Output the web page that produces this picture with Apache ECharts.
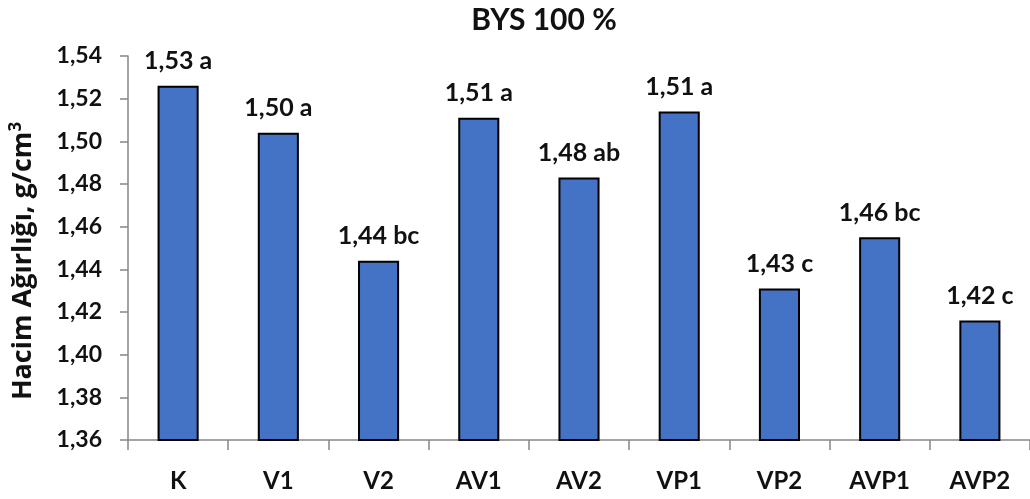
<!DOCTYPE html>
<html>
<head>
<meta charset="utf-8">
<script src="https://cdn.jsdelivr.net/npm/echarts@6/dist/echarts.min.js"></script>
<style>
  html, body { margin: 0; padding: 0; background: #fff; }
  #chart { width: 1030px; height: 499px; }
</style>
</head>
<body>
<div id="chart"></div>
<script>
// treatments and measured bulk density
const categories = ['K', 'V1', 'V2', 'AV1', 'AV2', 'VP1', 'VP2', 'AVP1', 'AVP2'];
const values = [1.526, 1.504, 1.444, 1.511, 1.483, 1.514, 1.431, 1.455, 1.416];
const shown = ['1,53', '1,50', '1,44', '1,51', '1,48', '1,51', '1,43', '1,46', '1,42'];
const letters = ['a', 'a', 'bc', 'a', 'ab', 'a', 'c', 'bc', 'c'];

const fontFam = 'Lato, "Open Sans", sans-serif';
const nameFam = '"Open Sans", Lato, sans-serif';
const chart = echarts.init(document.getElementById('chart'));

const option = {
  animation: false,
  title: {
    text: 'BYS 100 %',
    left: 539,
    textAlign: 'center',
    top: 0,
    textStyle: { fontFamily: fontFam, fontWeight: 'bold', fontSize: 30, color: '#111' }
  },
  grid: { left: 126, right: 0, top: 56, bottom: 59, containLabel: false },
  xAxis: {
    type: 'category',
    data: categories,
    axisLine: { lineStyle: { color: '#868686', width: 1.5 } },
    axisTick: { show: true, length: 10, lineStyle: { color: '#868686', width: 1.5 } },
    axisLabel: { margin: 29, fontFamily: fontFam, fontWeight: 'bold', fontSize: 24, color: '#111' }
  },
  yAxis: {
    type: 'value',
    min: 1.36,
    max: 1.54,
    interval: 0.02,
    name: '{n|Hacim Ağırlığı, g/cm}{s|3}',
    nameLocation: 'middle',
    nameGap: 89,
    nameTextStyle: {
      padding: [0, 26, 0, 0],
      rich: {
        n: { fontFamily: nameFam, fontWeight: 'bold', fontSize: 27, color: '#111' },
        s: { fontFamily: nameFam, fontWeight: 'bold', fontSize: 17, color: '#111', padding: [0, 0, 14, 0] }
      }
    },
    axisLine: { show: true, lineStyle: { color: '#868686', width: 1.5 } },
    axisTick: { show: true, length: 8, lineStyle: { color: '#868686', width: 1.5 } },
    splitLine: { show: false },
    axisLabel: {
      margin: 26,
      fontFamily: fontFam, fontWeight: 'bold', fontSize: 23, color: '#111',
      formatter: v => v.toFixed(2).replace('.', ',')
    }
  },
  series: [{
    type: 'bar',
    data: values,
    barWidth: '41%',
    itemStyle: { color: '#4472C4', borderColor: '#000', borderWidth: 2 },
    label: {
      show: true,
      position: 'top',
      distance: 12,
      fontFamily: fontFam, fontWeight: 'bold', fontSize: 25, color: '#111',
      formatter: p => shown[p.dataIndex] + ' ' + letters[p.dataIndex]
    }
  }]
};

chart.setOption(option);
</script>
</body>
</html>
